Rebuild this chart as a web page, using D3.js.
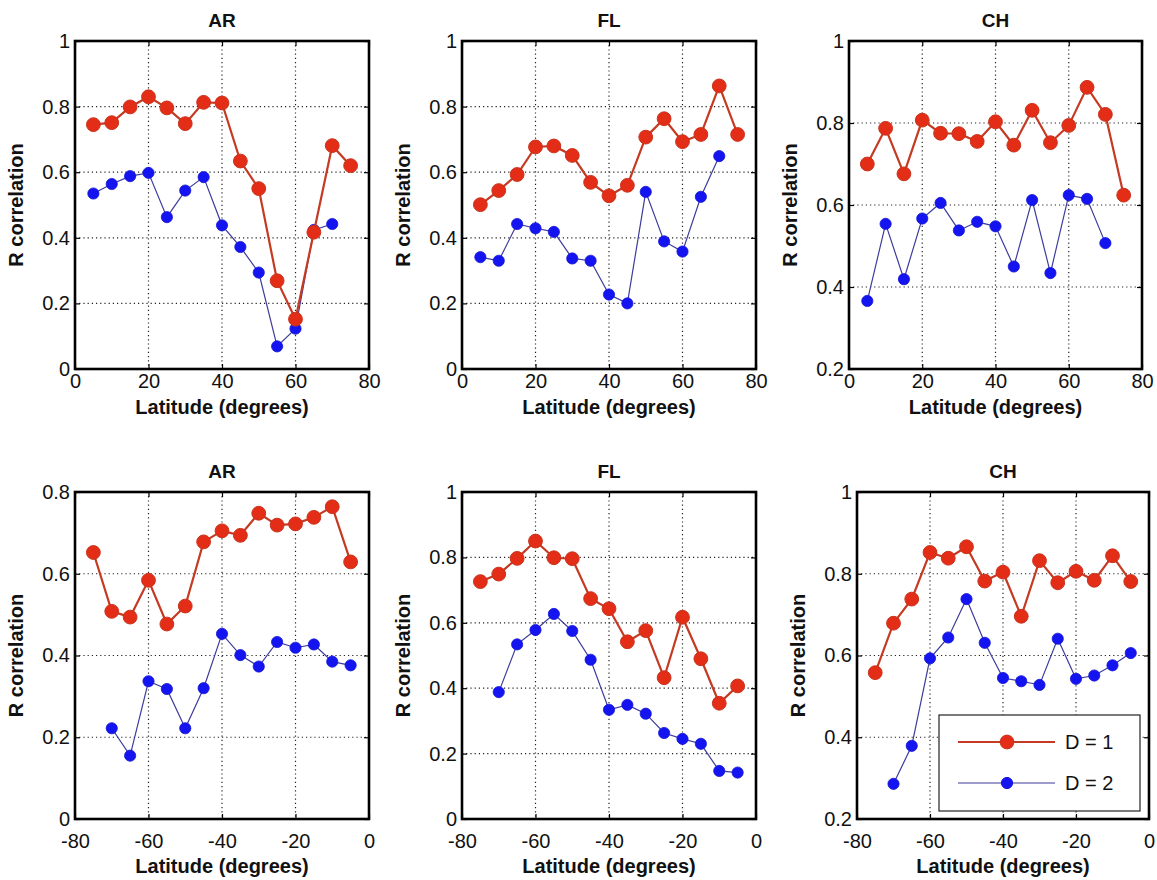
<!DOCTYPE html>
<html>
<head>
<meta charset="utf-8">
<script src="https://cdn.jsdelivr.net/npm/d3@7"></script>
<style>
  html, body { margin: 0; padding: 0; background: #fff; }
  svg { display: block; font-family: "Liberation Sans", Arial, sans-serif; }
</style>
</head>
<body>
<svg id="fig" width="1157" height="880"></svg>
<script>
// Latitude bins (degrees)
const latNorth = [5, 10, 15, 20, 25, 30, 35, 40, 45, 50, 55, 60, 65, 70, 75];
const latSouth = [-75, -70, -65, -60, -55, -50, -45, -40, -35, -30, -25, -20, -15, -10, -5];

// Northern hemisphere, D = 1 covers 5..75, D = 2 covers 5..70
const arNorthD1 = [0.745, 0.751, 0.799, 0.830, 0.796, 0.748, 0.813, 0.811, 0.634, 0.550, 0.269, 0.152, 0.417, 0.681, 0.620];
const arNorthD2 = [0.535, 0.564, 0.588, 0.598, 0.463, 0.544, 0.585, 0.438, 0.372, 0.294, 0.069, 0.123, 0.424, 0.442];
const flNorthD1 = [0.501, 0.544, 0.593, 0.677, 0.680, 0.651, 0.569, 0.528, 0.560, 0.707, 0.763, 0.693, 0.715, 0.863, 0.715];
const flNorthD2 = [0.341, 0.330, 0.442, 0.429, 0.418, 0.337, 0.330, 0.227, 0.200, 0.540, 0.389, 0.358, 0.525, 0.649];
const chNorthD1 = [0.700, 0.787, 0.676, 0.807, 0.775, 0.774, 0.755, 0.803, 0.746, 0.831, 0.752, 0.794, 0.887, 0.821, 0.624];
const chNorthD2 = [0.366, 0.554, 0.419, 0.567, 0.605, 0.538, 0.559, 0.548, 0.450, 0.612, 0.434, 0.624, 0.615, 0.507];

// Southern hemisphere, D = 1 covers -75..-5, D = 2 covers -70..-5
const arSouthD1 = [0.652, 0.508, 0.494, 0.584, 0.477, 0.521, 0.678, 0.705, 0.694, 0.748, 0.719, 0.722, 0.738, 0.764, 0.629];
const arSouthD2 = [0.222, 0.155, 0.337, 0.318, 0.222, 0.320, 0.453, 0.401, 0.373, 0.433, 0.419, 0.427, 0.385, 0.376];
const flSouthD1 = [0.726, 0.749, 0.797, 0.850, 0.799, 0.796, 0.674, 0.643, 0.542, 0.576, 0.432, 0.617, 0.490, 0.354, 0.407];
const flSouthD2 = [0.388, 0.534, 0.578, 0.627, 0.575, 0.487, 0.334, 0.349, 0.322, 0.263, 0.245, 0.230, 0.147, 0.142];
const chSouthD1 = [0.558, 0.679, 0.738, 0.852, 0.838, 0.866, 0.782, 0.804, 0.696, 0.832, 0.778, 0.806, 0.784, 0.844, 0.781];
const chSouthD2 = [0.286, 0.379, 0.593, 0.644, 0.738, 0.631, 0.545, 0.537, 0.528, 0.641, 0.543, 0.551, 0.576, 0.606];

// Tick values
const xTicksNorth = [0, 20, 40, 60, 80];
const xTicksSouth = [-80, -60, -40, -20, 0];
const yTicks0to1 = [0, 0.2, 0.4, 0.6, 0.8, 1];
const yTicks02to1 = [0.2, 0.4, 0.6, 0.8, 1];
const yTicks0to08 = [0, 0.2, 0.4, 0.6, 0.8];

const seriesNames = ["D = 1", "D = 2"];

const panels = [
  { title: "AR", lat: latNorth, d1: arNorthD1, d2: arNorthD2, d2lat: latNorth.slice(0, 14),
    xDom: [0, 80], xTicks: xTicksNorth, yDom: [0, 1], yTicks: yTicks0to1,
    box: [75, 41, 369, 369], row: 0 },
  { title: "FL", lat: latNorth, d1: flNorthD1, d2: flNorthD2, d2lat: latNorth.slice(0, 14),
    xDom: [0, 80], xTicks: xTicksNorth, yDom: [0, 1], yTicks: yTicks0to1,
    box: [462, 41, 756, 369], row: 0 },
  { title: "CH", lat: latNorth, d1: chNorthD1, d2: chNorthD2, d2lat: latNorth.slice(0, 14),
    xDom: [0, 80], xTicks: xTicksNorth, yDom: [0.2, 1], yTicks: yTicks02to1,
    box: [849, 41, 1142, 369], row: 0 },
  { title: "AR", lat: latSouth, d1: arSouthD1, d2: arSouthD2, d2lat: latSouth.slice(1),
    xDom: [-80, 0], xTicks: xTicksSouth, yDom: [0, 0.8], yTicks: yTicks0to08,
    box: [75, 492, 369, 819], row: 1 },
  { title: "FL", lat: latSouth, d1: flSouthD1, d2: flSouthD2, d2lat: latSouth.slice(1),
    xDom: [-80, 0], xTicks: xTicksSouth, yDom: [0, 1], yTicks: yTicks0to1,
    box: [462, 492, 756, 819], row: 1 },
  { title: "CH", lat: latSouth, d1: chSouthD1, d2: chSouthD2, d2lat: latSouth.slice(1),
    xDom: [-80, 0], xTicks: xTicksSouth, yDom: [0.2, 1], yTicks: yTicks02to1,
    box: [857, 492, 1149, 819], row: 1, legend: true }
];

const style = {
  d1Line: "#c43a22", d1Fill: "#e42d17", d1Edge: "#c8331d", d1R: 6.9, d1W: 2.2,
  d2Line: "#3c3c9c", d2Fill: "#1414f0", d2Edge: "#1414d8", d2R: 5.6, d2W: 1.2
};

const svg = d3.select("#fig");
svg.append("rect").attr("width", 1157).attr("height", 880).attr("fill", "#fff");

// plain-hyphen number labels, e.g. "-80", "0.2", "1"
const fmt = v => String(+v.toFixed(1));

panels.forEach(p => {
  const [x0, y0, x1, y1] = p.box;
  const x = d3.scaleLinear().domain(p.xDom).range([x0, x1]);
  const y = d3.scaleLinear().domain(p.yDom).range([y1, y0]);
  const g = svg.append("g");

  // dotted grid at interior ticks
  g.append("g").selectAll("line")
    .data(p.xTicks.filter(t => t !== p.xDom[0] && t !== p.xDom[1]))
    .join("line")
    .attr("x1", d => x(d)).attr("x2", d => x(d))
    .attr("y1", y0).attr("y2", y1)
    .attr("stroke", "#222").attr("stroke-width", 1.2)
    .attr("stroke-dasharray", "1.2,3");
  g.append("g").selectAll("line")
    .data(p.yTicks.filter(t => t !== p.yDom[0] && t !== p.yDom[1]))
    .join("line")
    .attr("x1", x0).attr("x2", x1)
    .attr("y1", d => y(d)).attr("y2", d => y(d))
    .attr("stroke", "#222").attr("stroke-width", 1.2)
    .attr("stroke-dasharray", "1.2,3");

  // axes with inward ticks
  const tickLabelGapX = p.row === 0 ? 5 : 15;
  const ax = g.append("g").attr("transform", `translate(0,${y1})`)
    .call(d3.axisBottom(x).tickValues(p.xTicks).tickSize(-5).tickPadding(tickLabelGapX).tickFormat(fmt));
  const ay = g.append("g").attr("transform", `translate(${x0},0)`)
    .call(d3.axisLeft(y).tickValues(p.yTicks).tickSize(-5).tickPadding(5).tickFormat(fmt));
  g.append("g").attr("transform", `translate(0,${y0})`)
    .call(d3.axisTop(x).tickValues(p.xTicks).tickSize(-5).tickFormat(""));
  g.append("g").attr("transform", `translate(${x1},0)`)
    .call(d3.axisRight(y).tickValues(p.yTicks).tickSize(-5).tickFormat(""));
  g.selectAll(".domain").remove();
  g.selectAll(".tick line").attr("stroke", "#000").attr("stroke-width", 1.2);
  [ax, ay].forEach(a => a.selectAll(".tick text")
    .attr("font-size", 20).attr("fill", "#111")
    .attr("font-family", "'Liberation Sans', Arial, sans-serif"));

  // frame
  g.append("rect")
    .attr("x", x0).attr("y", y0).attr("width", x1 - x0).attr("height", y1 - y0)
    .attr("fill", "none").attr("stroke", "#000").attr("stroke-width", 2.6);

  // title
  g.append("text")
    .attr("x", (x0 + x1) / 2).attr("y", y0 - 14)
    .attr("text-anchor", "middle").attr("font-size", 19).attr("font-weight", "bold")
    .attr("fill", "#111").text(p.title);

  // axis labels
  g.append("text")
    .attr("x", (x0 + x1) / 2).attr("y", p.row === 0 ? y1 + 45 : y1 + 54)
    .attr("text-anchor", "middle").attr("font-size", 20).attr("font-weight", "bold")
    .attr("fill", "#111").text("Latitude (degrees)");
  g.append("text")
    .attr("transform", `translate(${x0 - 52},${(y0 + y1) / 2}) rotate(-90)`)
    .attr("text-anchor", "middle").attr("font-size", 20).attr("font-weight", "bold")
    .attr("fill", "#111").text("R correlation");

  // D = 2 series
  const d2pts = p.d2.map((v, i) => [p.d2lat[i], v]);
  const line = d3.line().x(d => x(d[0])).y(d => y(d[1]));
  g.append("path").datum(d2pts).attr("d", line)
    .attr("fill", "none").attr("stroke", style.d2Line).attr("stroke-width", style.d2W);
  g.append("g").selectAll("circle").data(d2pts).join("circle")
    .attr("cx", d => x(d[0])).attr("cy", d => y(d[1])).attr("r", style.d2R)
    .attr("fill", style.d2Fill).attr("stroke", style.d2Edge).attr("stroke-width", 0.8);

  // D = 1 series
  const d1pts = p.d1.map((v, i) => [p.lat[i], v]);
  g.append("path").datum(d1pts).attr("d", line)
    .attr("fill", "none").attr("stroke", style.d1Line).attr("stroke-width", style.d1W);
  g.append("g").selectAll("circle").data(d1pts).join("circle")
    .attr("cx", d => x(d[0])).attr("cy", d => y(d[1])).attr("r", style.d1R)
    .attr("fill", style.d1Fill).attr("stroke", style.d1Edge).attr("stroke-width", 1);

  if (p.legend) {
    const lg = g.append("g").attr("transform", "translate(939,715)");
    lg.append("rect").attr("width", 201).attr("height", 96)
      .attr("fill", "#fff").attr("stroke", "#222").attr("stroke-width", 1.2);
    const rows = [
      { name: seriesNames[0], line: style.d1Line, fill: style.d1Fill, edge: style.d1Edge, r: style.d1R, w: style.d1W, y: 27 },
      { name: seriesNames[1], line: style.d2Line, fill: style.d2Fill, edge: style.d2Edge, r: style.d2R, w: style.d2W, y: 68 }
    ];
    rows.forEach(r => {
      lg.append("line").attr("x1", 19).attr("x2", 116).attr("y1", r.y).attr("y2", r.y)
        .attr("stroke", r.line).attr("stroke-width", r.w);
      lg.append("circle").attr("cx", 68).attr("cy", r.y).attr("r", r.r)
        .attr("fill", r.fill).attr("stroke", r.edge);
      lg.append("text").attr("x", 126).attr("y", r.y + 7).attr("font-size", 20)
        .attr("fill", "#111").text(r.name);
    });
  }
});
</script>
</body>
</html>
